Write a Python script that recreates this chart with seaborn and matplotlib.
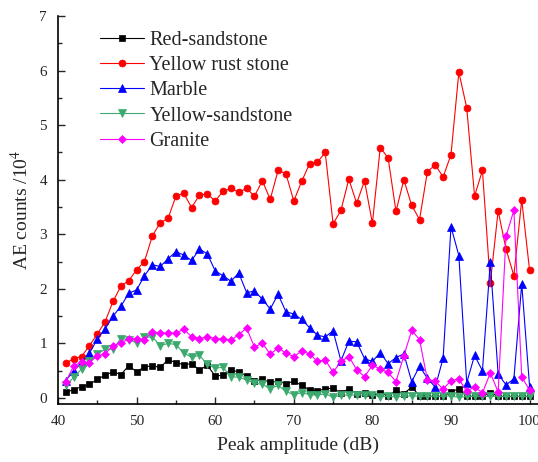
import numpy as np
import pandas as pd
import matplotlib
matplotlib.use("Agg")
import matplotlib.pyplot as plt
import seaborn as sns

amplitude = list(range(41, 101))

red_sandstone = [0.11, 0.15, 0.21, 0.25, 0.34, 0.42, 0.48, 0.43, 0.59, 0.48,
                 0.57, 0.59, 0.56, 0.70, 0.65, 0.61, 0.63, 0.51, 0.60, 0.40,
                 0.42, 0.51, 0.48, 0.40, 0.31, 0.34, 0.29, 0.31, 0.26, 0.31,
                 0.23, 0.15, 0.13, 0.17, 0.18, 0.09, 0.17, 0.08, 0.10, 0.05,
                 0.09, 0.04, 0.14, 0.08, 0.20, 0.04, 0.03, 0.03, 0.03, 0.11,
                 0.17, 0.03, 0.03, 0.03, 0.10, 0.03, 0.03, 0.03, 0.03, 0.03]

yellow_rust = [0.64, 0.72, 0.76, 0.96, 1.17, 1.40, 1.77, 2.05, 2.15, 2.35,
               2.50, 2.97, 3.21, 3.29, 3.70, 3.75, 3.49, 3.72, 3.74, 3.61,
               3.79, 3.84, 3.77, 3.84, 3.70, 3.98, 3.64, 4.17, 4.11, 3.61,
               3.97, 4.29, 4.32, 4.50, 3.19, 3.44, 4.01, 3.57, 3.98, 3.20,
               4.59, 4.40, 3.42, 4.00, 3.53, 3.27, 4.15, 4.27, 4.05, 4.46,
               5.97, 5.32, 3.70, 4.17, 2.10, 3.43, 2.73, 2.24, 3.63, 2.34]

marble = [0.32, 0.50, 0.66, 0.82, 1.08, 1.27, 1.50, 1.68, 1.92, 1.98,
          2.24, 2.44, 2.41, 2.55, 2.68, 2.62, 2.52, 2.73, 2.64, 2.33,
          2.24, 2.14, 2.29, 1.93, 1.96, 1.81, 1.63, 1.90, 1.58, 1.54,
          1.44, 1.29, 1.15, 1.12, 1.23, 0.68, 1.04, 1.03, 0.72, 0.67,
          0.83, 0.63, 0.74, 0.81, 0.30, 0.58, 0.36, 0.20, 0.73, 3.14,
          2.61, 0.28, 0.78, 0.50, 2.49, 0.44, 0.24, 0.35, 2.09, 0.21]

yellow_sandstone = [0.23, 0.38, 0.53, 0.67, 0.81, 0.89, 0.90, 1.09, 1.07, 1.01,
                    1.11, 1.12, 0.96, 1.00, 0.98, 0.82, 0.75, 0.78, 0.62, 0.55,
                    0.56, 0.39, 0.38, 0.33, 0.27, 0.25, 0.17, 0.23, 0.12, 0.06,
                    0.10, 0.06, 0.05, 0.08, 0.01, 0.06, 0.05, 0.06, 0.05, 0.06,
                    0.02, 0.03, 0.02, 0.03, 0.04, 0.03, 0.03, 0.03, 0.03, 0.04,
                    0.01, 0.03, 0.03, 0.03, 0.03, 0.03, 0.03, 0.03, 0.03, 0.03]

granite = [0.30, 0.59, 0.66, 0.65, 0.77, 0.81, 0.96, 1.01, 1.08, 1.09,
           1.07, 1.21, 1.19, 1.19, 1.19, 1.26, 1.12, 1.09, 1.12, 1.09,
           1.08, 1.06, 1.16, 1.28, 0.93, 1.01, 0.80, 0.92, 0.82, 0.76,
           0.86, 0.81, 0.67, 0.70, 0.47, 0.67, 0.76, 0.52, 0.39, 0.60,
           0.53, 0.47, 0.30, 0.77, 1.24, 1.07, 0.33, 0.31, 0.16, 0.32,
           0.35, 0.12, 0.21, 0.09, 0.46, 0.11, 2.96, 3.44, 0.39, 0.14]

series_names = ["Red-sandstone", "Yellow rust stone", "Marble",
                "Yellow-sandstone", "Granite"]
series_values = [red_sandstone, yellow_rust, marble, yellow_sandstone, granite]
series_colors = ["#000000", "#FF0000", "#0000FF", "#3CAA6E", "#FF00FF"]
series_markers = ["s", "o", "^", "v", "D"]
series_msizes = [4.5, 5.0, 5.5, 5.5, 4.5]

x_ticks = [40, 50, 60, 70, 80, 90, 100]
y_ticks = [0, 1, 2, 3, 4, 5, 6, 7]

sns.set_style("ticks")
plt.rcParams["font.family"] = ["Liberation Serif", "DejaVu Serif"]
plt.rcParams["mathtext.fontset"] = "stix"

fig = plt.figure(figsize=(5.38, 4.62), dpi=100)
ax = fig.add_axes([58 / 538, 58 / 462, 480 / 538, 388 / 462])

for name, vals, col, mk, ms in zip(series_names, series_values, series_colors,
                                   series_markers, series_msizes):
    df = pd.DataFrame({"amp": amplitude, "count": vals})
    sns.lineplot(data=df, x="amp", y="count", ax=ax, color=col, marker=mk,
                 markersize=ms, markeredgecolor=col, markeredgewidth=0.5,
                 linewidth=0.8, label=name)

ax.set_xlim(40, 101.07)
ax.set_ylim(-0.11, 7)
ax.set_xticks(x_ticks)
ax.set_yticks(y_ticks)
ax.set_xticks([45, 55, 65, 75, 85, 95], minor=True)
ax.set_yticks([0.5, 1.5, 2.5, 3.5, 4.5, 5.5, 6.5], minor=True)
ax.tick_params(which="major", direction="in", length=5, width=1, labelsize=11)
ax.tick_params(which="minor", direction="in", length=3, width=1)
ax.tick_params(axis="x", pad=8)
ax.tick_params(axis="y", pad=8)
for s in ["top", "right"]:
    ax.spines[s].set_visible(False)
for s in ["left", "bottom"]:
    ax.spines[s].set_linewidth(1.2)
    ax.spines[s].set_color("black")

ax.set_xlabel("Peak amplitude (dB)", fontsize=14, labelpad=6)
ax.set_ylabel("AE counts /10$^4$", fontsize=14, labelpad=5)

leg = ax.legend(loc="upper left", bbox_to_anchor=((100 - 58) / 480, (404 - 31) / 388),
                frameon=False, fontsize=14.5, handlelength=2.2, handletextpad=0.25,
                labelspacing=0.3, borderpad=0, borderaxespad=0)

fig.savefig("out.png", dpi=100)
